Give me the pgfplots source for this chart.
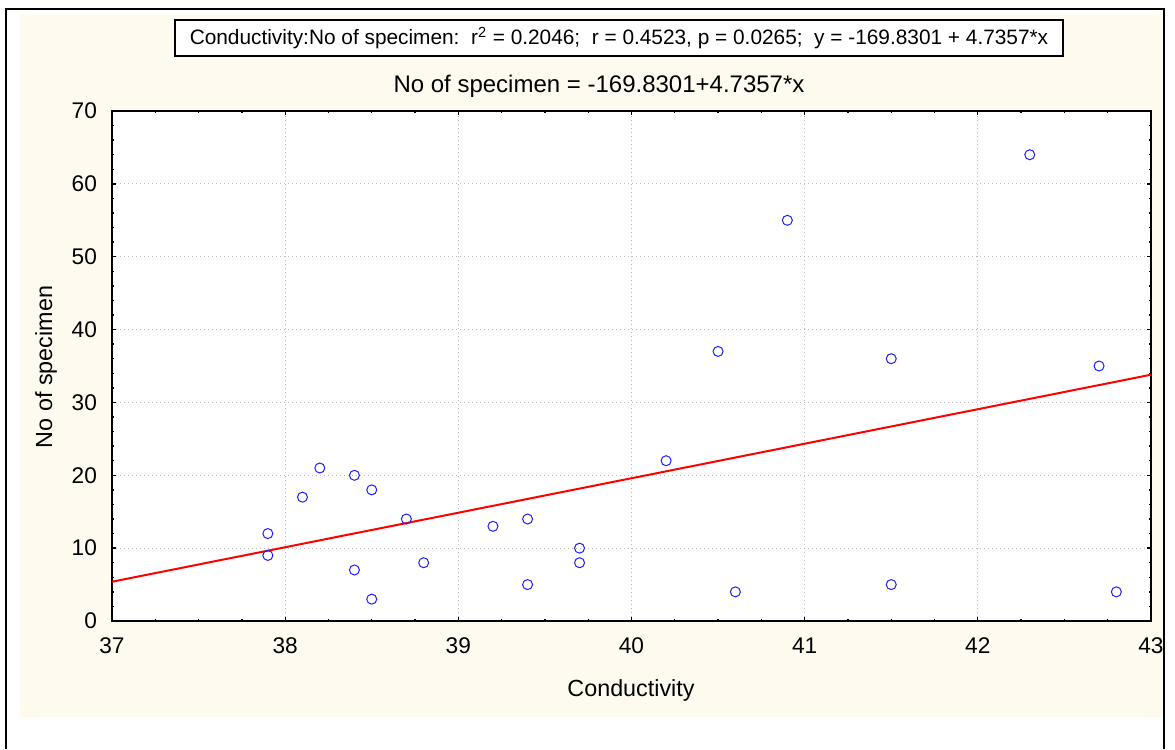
\documentclass[border=0pt]{standalone}
\usepackage{fontspec}
\setmainfont{Liberation Sans}
\usepackage{pgfplots}
\pgfplotsset{compat=1.18}
\definecolor{cream}{RGB}{254,250,240}
\definecolor{gridgray}{RGB}{185,185,185}
\definecolor{ptblue}{RGB}{30,30,255}
\begin{document}
\begin{tikzpicture}[x=0.6pt,y=0.6pt]
\path[use as bounding box] (0,0) rectangle (1175,749);
\fill[white] (0,0) rectangle (1175,749);
\fill[cream] (20,32) rectangle (1163,735);
\draw[line width=1.2pt] (6,0) -- (6,740) -- (1164,740) -- (1164,0);
\node[draw, line width=0.8pt, fill=white, minimum width=888*0.6pt, minimum height=36*0.6pt, inner sep=0pt,
  font=\fontsize{12.5}{14}\selectfont] at (619,711)
  {Conductivity:No of specimen:\ \ r\textsuperscript{2} = 0.2046;\ \ r = 0.4523, p = 0.0265;\ \ y = -169.8301 + 4.7357*x};
\node[font=\fontsize{14.4}{16}\selectfont] at (599,663) {No of specimen = -169.8301+4.7357*x};
\node[font=\fontsize{14}{16}\selectfont] at (631,59) {Conductivity};
\node[font=\fontsize{14}{16}\selectfont, rotate=90] at (46,382) {No of specimen};
\begin{axis}[
  at={(67.2pt,76.8pt)}, anchor=south west,
  scale only axis, width=623.4pt, height=306pt,
  xmin=37, xmax=43, ymin=0, ymax=70,
  xtick={37,38,...,43}, ytick={0,10,...,70},
  minor x tick num=3, minor y tick num=4,
  tick align=inside, xtick pos=both, ytick pos=both,
  xticklabel pos=lower, yticklabel pos=left,
  major tick length=2.6pt, minor tick length=1.4pt,
  every tick/.style={black, line width=0.8pt},
  axis line style={line width=1.2pt},
  axis background/.style={fill=white},
  grid=major,
  major grid style={dotted, gridgray, line width=0.6pt},
  ticklabel style={font=\fontsize{13.6}{15}\selectfont},
  /pgf/number format/assume math mode=true,
  xticklabel style={yshift=-6.5pt},
  yticklabel style={xshift=-5.5pt},
]
\addplot[red, line width=1.2pt] coordinates {(37,5.3908) (43,33.8050)};
\addplot[only marks, mark=o, mark size=3pt, ptblue, mark options={line width=0.6pt}] coordinates {
(37.9,12) (37.9,9) (38.1,17) (38.2,21) (38.4,20) (38.5,18) (38.7,14) (38.4,7)
(38.5,3) (38.8,8) (39.2,13) (39.4,14) (39.4,5) (39.7,10) (39.7,8) (40.2,22)
(40.5,37) (40.6,4) (40.9,55) (41.5,36) (41.5,5) (42.3,64) (42.7,35) (42.8,4)
};
\end{axis}
\end{tikzpicture}
\end{document}
